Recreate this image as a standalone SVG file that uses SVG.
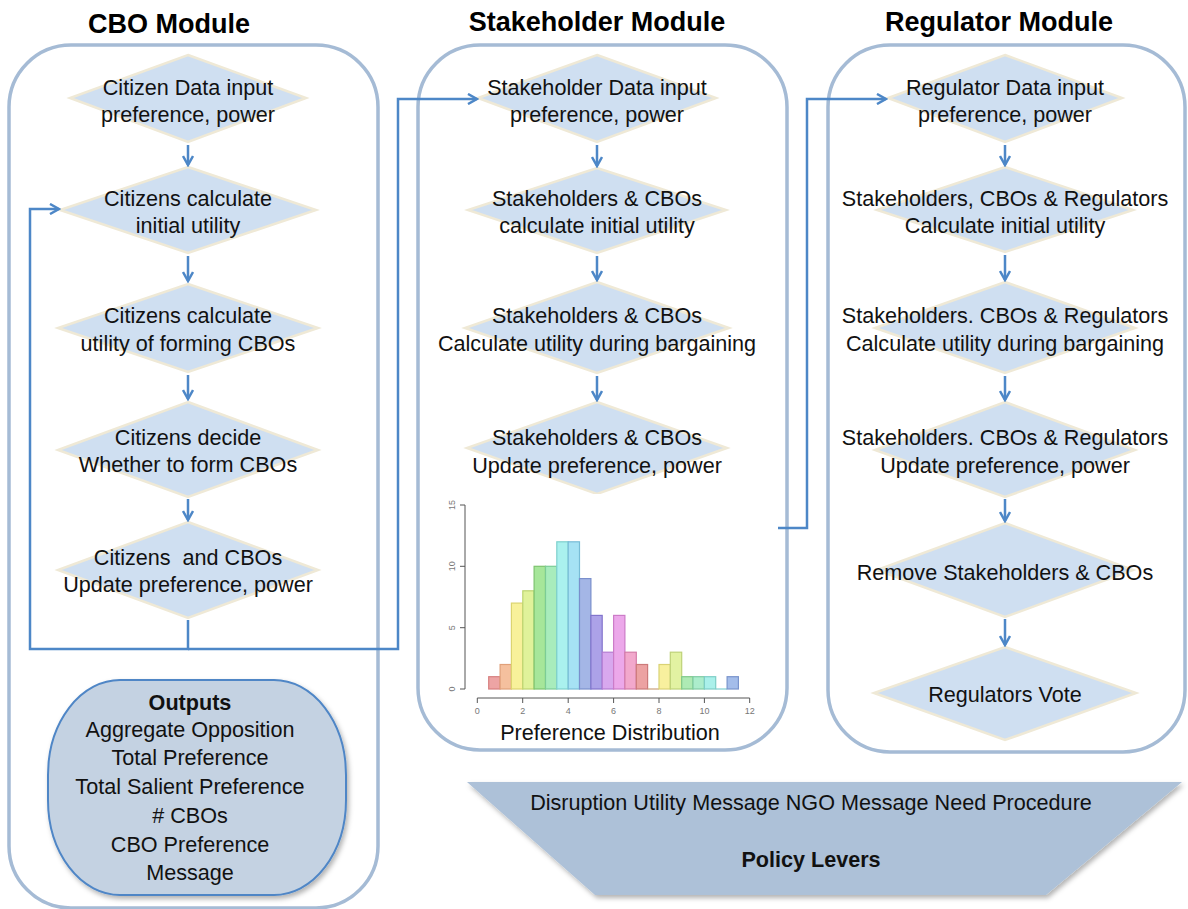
<svg xmlns="http://www.w3.org/2000/svg" width="1188" height="909" viewBox="0 0 1188 909">
  <style>
    .module { fill: none; stroke: #a5bbd5; stroke-width: 3.5; }
    .title { font-family: "Liberation Sans", Arial, sans-serif; font-size: 27px; font-weight: bold; fill: #000; text-anchor: middle; }
    .step { fill: #cfdff1; stroke: #efe9d6; stroke-width: 2.5; }
    .label { font-family: "Liberation Sans", Arial, sans-serif; font-size: 21.6px; fill: #111; text-anchor: middle; }
    .bold { font-weight: bold; }
    .flow { fill: none; stroke: #4d87c7; stroke-width: 2.5; }
    .axis { fill: none; stroke: #555; stroke-width: 1; }
    .tick { font-family: "Liberation Sans", Arial, sans-serif; font-size: 9px; fill: #777; text-anchor: middle; }
    .bar { stroke-width: 1.2; }
  </style>
  <defs>
    <marker id="arrow" viewBox="0 0 12 12" refX="10" refY="6" markerWidth="12" markerHeight="12" markerUnits="userSpaceOnUse" orient="auto">
      <path d="M1,1 L10,6 L1,11" fill="none" stroke="#4d87c7" stroke-width="2.5"/>
    </marker>
    <filter id="shadow" x="-10%" y="-10%" width="125%" height="125%">
      <feDropShadow dx="2" dy="3" stdDeviation="2.5" flood-color="#000" flood-opacity="0.3"/>
    </filter>
  </defs>

  <rect width="1188" height="909" fill="#fff"/>

  <!-- module titles -->
  <text class="title" x="169" y="33">CBO Module</text>
  <text class="title" x="597" y="31">Stakeholder Module</text>
  <text class="title" x="999" y="31">Regulator Module</text>

  <!-- module containers -->
  <g id="cbo-module"><rect class="module" x="9" y="45" width="369" height="863" rx="62" ry="62"/></g>
  <g id="stakeholder-module"><rect class="module" x="418" y="45" width="369" height="705" rx="62" ry="62"/></g>
  <g id="regulator-module"><rect class="module" x="828" y="45" width="357" height="707" rx="62" ry="62"/></g>

  <!-- CBO steps -->
  <g id="cbo-input">
    <polygon class="step" points="188,55 306,98 188,142 70,98"/>
    <text class="label" x="188" y="95">Citizen Data input</text>
    <text class="label" x="188" y="122">preference, power</text>
  </g>
  <g id="cbo-initial-utility">
    <polygon class="step" points="188,167 316,210 188,253 60,210"/>
    <text class="label" x="188" y="206">Citizens calculate</text>
    <text class="label" x="188" y="233">initial utility</text>
  </g>
  <g id="cbo-forming-utility">
    <polygon class="step" points="188,284 318,328 188,372 58,328"/>
    <text class="label" x="188" y="323">Citizens calculate</text>
    <text class="label" x="188" y="351">utility of forming CBOs</text>
  </g>
  <g id="cbo-decide">
    <polygon class="step" points="188,402 318,450 188,497 58,450"/>
    <text class="label" x="188" y="445">Citizens decide</text>
    <text class="label" x="188" y="472">Whether to form CBOs</text>
  </g>
  <g id="cbo-update">
    <polygon class="step" points="188,522 318,570 188,618 58,570"/>
    <text class="label" x="188" y="565" xml:space="preserve">Citizens  and CBOs</text>
    <text class="label" x="188" y="592">Update preference, power</text>
  </g>

  <!-- CBO outputs -->
  <g id="cbo-outputs">
    <rect x="48" y="680" width="298" height="215" rx="72" ry="95" fill="#c4d2e2" stroke="#4f86c6" stroke-width="2" filter="url(#shadow)"/>
    <text class="label bold" x="190" y="710">Outputs</text>
    <text class="label" x="190" y="737">Aggregate Opposition</text>
    <text class="label" x="190" y="765">Total Preference</text>
    <text class="label" x="190" y="794">Total Salient Preference</text>
    <text class="label" x="190" y="823"># CBOs</text>
    <text class="label" x="190" y="852">CBO Preference</text>
    <text class="label" x="190" y="880">Message</text>
  </g>

  <!-- Stakeholder steps -->
  <g id="stk-input">
    <polygon class="step" points="597,55 716,98 597,142 478,98"/>
    <text class="label" x="597" y="95">Stakeholder Data input</text>
    <text class="label" x="597" y="122">preference, power</text>
  </g>
  <g id="stk-initial-utility">
    <polygon class="step" points="597,168 726,210 597,253 468,210"/>
    <text class="label" x="597" y="206">Stakeholders &amp; CBOs</text>
    <text class="label" x="597" y="233">calculate initial utility</text>
  </g>
  <g id="stk-bargaining">
    <polygon class="step" points="597,282 729,328 597,373 465,328"/>
    <text class="label" x="597" y="323">Stakeholders &amp; CBOs</text>
    <text class="label" x="597" y="351">Calculate utility during bargaining</text>
  </g>
  <g id="stk-update">
    <polygon class="step" points="597,402 727,448 597,494 467,448"/>
    <text class="label" x="597" y="445">Stakeholders &amp; CBOs</text>
    <text class="label" x="597" y="473">Update preference, power</text>
  </g>

  <!-- preference distribution histogram -->
  <g id="stk-histogram">
    <rect x="432" y="494" width="328" height="230" fill="#fff"/>
    <g class="bars">
      <rect class="bar" x="488.7" y="676.7" width="11.4" height="12.3" fill="#eda4a4" stroke="#d77f7f"/>
      <rect class="bar" x="500.1" y="664.5" width="11.3" height="24.5" fill="#f5c09e" stroke="#e0a07a"/>
      <rect class="bar" x="511.4" y="603.1" width="11.4" height="85.9" fill="#f8f19a" stroke="#dcd470"/>
      <rect class="bar" x="522.8" y="590.8" width="11.3" height="98.2" fill="#e0f29a" stroke="#bcd470"/>
      <rect class="bar" x="534.1" y="566.3" width="11.4" height="122.7" fill="#a6e69a" stroke="#7ec46f"/>
      <rect class="bar" x="545.5" y="566.3" width="11.3" height="122.7" fill="#a8ecbc" stroke="#7ccc96"/>
      <rect class="bar" x="556.8" y="541.8" width="11.4" height="147.2" fill="#aaf1ee" stroke="#7ed0cc"/>
      <rect class="bar" x="568.2" y="541.8" width="11.3" height="147.2" fill="#a6e2f4" stroke="#78bcd6"/>
      <rect class="bar" x="579.5" y="578.6" width="11.4" height="110.4" fill="#a4b6e6" stroke="#7a8fcc"/>
      <rect class="bar" x="590.9" y="615.4" width="11.3" height="73.6" fill="#aca2e8" stroke="#8274cc"/>
      <rect class="bar" x="602.2" y="652.2" width="11.4" height="36.8" fill="#d8a8ee" stroke="#b47cd2"/>
      <rect class="bar" x="613.6" y="615.4" width="11.3" height="73.6" fill="#eca8ea" stroke="#cc7cc8"/>
      <rect class="bar" x="624.9" y="652.2" width="11.4" height="36.8" fill="#f2a8cc" stroke="#d47ca8"/>
      <rect class="bar" x="636.3" y="664.5" width="11.3" height="24.5" fill="#eca2a2" stroke="#cc7a7a"/>
      <line x1="647.6" y1="689" x2="659" y2="689" stroke="#c9a07a" stroke-width="1.2"/>
      <rect class="bar" x="659" y="664.5" width="11.3" height="24.5" fill="#f8f09e" stroke="#dad275"/>
      <rect class="bar" x="670.3" y="652.2" width="11.4" height="36.8" fill="#e2f2a2" stroke="#bed278"/>
      <rect class="bar" x="681.7" y="676.7" width="11.3" height="12.3" fill="#aeeab4" stroke="#80c88a"/>
      <rect class="bar" x="693" y="676.7" width="11.4" height="12.3" fill="#acedcc" stroke="#80cca4"/>
      <rect class="bar" x="704.4" y="676.7" width="11.3" height="12.3" fill="#aaf0ea" stroke="#7ecec6"/>
      <line x1="715.7" y1="689" x2="727.1" y2="689" stroke="#7ecece" stroke-width="1.2"/>
      <rect class="bar" x="727.1" y="676.7" width="11.3" height="12.3" fill="#a4bdea" stroke="#7a94cc"/>
    </g>
    <!-- axes -->
    <path class="axis" d="M477.3,698 H749.7 M477.3,698 v5 M522.7,698 v5 M568.2,698 v5 M613.6,698 v5 M659,698 v5 M704.4,698 v5 M749.7,698 v5"/>
    <path class="axis" d="M465,689 V505 M465,689 h-5 M465,627.7 h-5 M465,566.3 h-5 M465,505 h-5"/>
    <text class="tick" x="477.3" y="714">0</text>
    <text class="tick" x="522.7" y="714">2</text>
    <text class="tick" x="568.2" y="714">4</text>
    <text class="tick" x="613.6" y="714">6</text>
    <text class="tick" x="659" y="714">8</text>
    <text class="tick" x="704.4" y="714">10</text>
    <text class="tick" x="749.7" y="714">12</text>
    <text class="tick" transform="translate(455,689) rotate(-90)">0</text>
    <text class="tick" transform="translate(455,627.7) rotate(-90)">5</text>
    <text class="tick" transform="translate(455,566.3) rotate(-90)">10</text>
    <text class="tick" transform="translate(455,505) rotate(-90)">15</text>
    <text class="label" x="610" y="740">Preference Distribution</text>
  </g>

  <!-- Regulator steps -->
  <g id="reg-input">
    <polygon class="step" points="1005,55 1122,98 1005,142 888,98"/>
    <text class="label" x="1005" y="95">Regulator Data input</text>
    <text class="label" x="1005" y="122">preference, power</text>
  </g>
  <g id="reg-initial-utility">
    <polygon class="step" points="1005,167 1133,210 1005,252 877,210"/>
    <text class="label" x="1005" y="206">Stakeholders, CBOs &amp; Regulators</text>
    <text class="label" x="1005" y="233">Calculate initial utility</text>
  </g>
  <g id="reg-bargaining">
    <polygon class="step" points="1005,282 1135,328 1005,373 875,328"/>
    <text class="label" x="1005" y="323">Stakeholders. CBOs &amp; Regulators</text>
    <text class="label" x="1005" y="351">Calculate utility during bargaining</text>
  </g>
  <g id="reg-update">
    <polygon class="step" points="1005,402 1135,450 1005,497 875,450"/>
    <text class="label" x="1005" y="445">Stakeholders. CBOs &amp; Regulators</text>
    <text class="label" x="1005" y="473">Update preference, power</text>
  </g>
  <g id="reg-remove">
    <polygon class="step" points="1005,523 1133,570 1005,617 877,570"/>
    <text class="label" x="1005" y="580">Remove Stakeholders &amp; CBOs</text>
  </g>
  <g id="reg-vote">
    <polygon class="step" points="1005,647 1136,693 1005,740 874,693"/>
    <text class="label" x="1005" y="702">Regulators Vote</text>
  </g>

  <!-- policy levers -->
  <g id="policy-levers">
    <polygon points="467,782 1182,782 1046,895 595,895" fill="#adc1d8" filter="url(#shadow)"/>
    <text class="label" x="811" y="810">Disruption Utility Message NGO Message Need Procedure</text>
    <text class="label bold" x="811" y="867">Policy Levers</text>
  </g>

  <!-- connectors -->
  <g id="connectors">
    <line class="flow" x1="188" y1="145" x2="188" y2="165" marker-end="url(#arrow)"/>
    <line class="flow" x1="188" y1="256" x2="188" y2="281" marker-end="url(#arrow)"/>
    <line class="flow" x1="188" y1="375" x2="188" y2="399" marker-end="url(#arrow)"/>
    <line class="flow" x1="188" y1="499" x2="188" y2="520" marker-end="url(#arrow)"/>
    <path class="flow" d="M188,620 V649 H30 V209 H59" marker-end="url(#arrow)"/>
    <path class="flow" d="M188,649 H398 V99 H477" marker-end="url(#arrow)"/>

    <line class="flow" x1="597" y1="145" x2="597" y2="166" marker-end="url(#arrow)"/>
    <line class="flow" x1="597" y1="256" x2="597" y2="280" marker-end="url(#arrow)"/>
    <line class="flow" x1="597" y1="376" x2="597" y2="400" marker-end="url(#arrow)"/>
    <path class="flow" d="M778,528 H807 V99 H886" marker-end="url(#arrow)"/>

    <line class="flow" x1="1005" y1="145" x2="1005" y2="165" marker-end="url(#arrow)"/>
    <line class="flow" x1="1005" y1="255" x2="1005" y2="280" marker-end="url(#arrow)"/>
    <line class="flow" x1="1005" y1="376" x2="1005" y2="400" marker-end="url(#arrow)"/>
    <line class="flow" x1="1005" y1="499" x2="1005" y2="521" marker-end="url(#arrow)"/>
    <line class="flow" x1="1005" y1="619" x2="1005" y2="645" marker-end="url(#arrow)"/>
  </g>
</svg>
